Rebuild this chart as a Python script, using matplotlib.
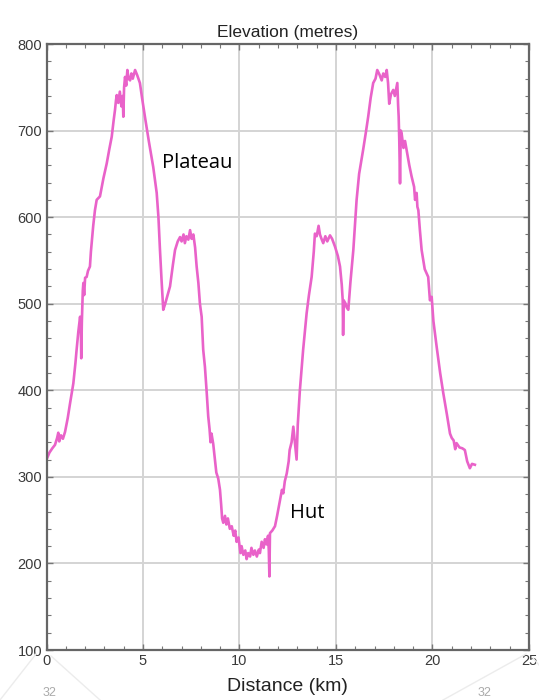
import matplotlib
matplotlib.use("Agg")
import matplotlib.pyplot as plt
from matplotlib.lines import Line2D
from matplotlib.ticker import MultipleLocator

# distance along the route (km) and elevation (m)
dist = [0.00, 0.15, 0.30, 0.44, 0.55, 0.61, 0.66, 0.75, 0.85, 0.96,
        1.10, 1.22, 1.39, 1.50, 1.56, 1.65, 1.74, 1.78, 1.80, 1.83,
        1.88, 1.91, 1.95, 2.00, 2.08, 2.15, 2.25, 2.30, 2.34, 2.42,
        2.51, 2.60, 2.77, 2.95, 3.12, 3.25, 3.38, 3.48, 3.55, 3.60,
        3.64, 3.72, 3.80, 3.88, 3.95, 3.98, 4.02, 4.07, 4.13, 4.19,
        4.25, 4.33, 4.40, 4.47, 4.59, 4.70, 4.84, 4.95, 5.10, 5.30,
        5.53, 5.71, 5.80, 5.88, 5.96, 6.05, 6.15, 6.25, 6.40, 6.55,
        6.66, 6.80, 6.92, 7.00, 7.10, 7.17, 7.25, 7.35, 7.44, 7.52,
        7.61, 7.70, 7.78, 7.87, 7.95, 8.04, 8.12, 8.21, 8.30, 8.38,
        8.45, 8.50, 8.55, 8.64, 8.73, 8.80, 8.90, 8.99, 9.05, 9.10,
        9.16, 9.25, 9.32, 9.40, 9.50, 9.60, 9.70, 9.78, 9.85, 9.95,
        10.05, 10.11, 10.20, 10.30, 10.37, 10.45, 10.55, 10.62, 10.72, 10.80,
        10.90, 11.00, 11.06, 11.15, 11.25, 11.32, 11.40, 11.48, 11.52, 11.55,
        11.58, 11.70, 11.84, 11.95, 12.10, 12.20, 12.27, 12.35, 12.45, 12.55,
        12.60, 12.70, 12.79, 12.85, 12.90, 12.96, 13.02, 13.13, 13.30, 13.48,
        13.60, 13.74, 13.85, 13.91, 14.00, 14.10, 14.17, 14.25, 14.34, 14.45,
        14.55, 14.69, 14.80, 14.95, 15.10, 15.21, 15.30, 15.35, 15.37, 15.40,
        15.50, 15.55, 15.64, 15.75, 15.90, 16.07, 16.20, 16.41, 16.55, 16.67,
        16.80, 16.93, 17.05, 17.14, 17.25, 17.37, 17.45, 17.55, 17.63, 17.70,
        17.76, 17.85, 17.97, 18.05, 18.18, 18.22, 18.25, 18.28, 18.32, 18.36,
        18.40, 18.50, 18.58, 18.66, 18.80, 18.92, 19.05, 19.10, 19.18, 19.22,
        19.27, 19.35, 19.44, 19.52, 19.60, 19.70, 19.78, 19.87, 19.96, 20.05,
        20.22, 20.40, 20.56, 20.75, 20.91, 21.00, 21.10, 21.18, 21.25, 21.40,
        21.55, 21.68, 21.80, 21.94, 22.05, 22.20]

elev = [320, 328, 333, 337, 345, 351, 341, 348, 344, 352,
        368, 385, 408, 432, 447, 468, 485, 470, 437, 478,
        515, 524, 510, 530, 531, 538, 543, 560, 570, 590,
        608, 620, 624, 645, 662, 678, 693, 712, 724, 735,
        741, 732, 745, 728, 740, 716, 750, 762, 752, 770,
        760, 758, 766, 760, 770, 764, 755, 738, 716, 688,
        658, 628, 600, 562, 528, 493, 500, 508, 520, 545,
        562, 572, 577, 572, 580, 570, 578, 574, 585, 575,
        580, 565, 543, 524, 500, 485, 447, 427, 398, 370,
        355, 340, 350, 338, 320, 305, 298, 285, 268, 252,
        247, 255, 245, 252, 240, 243, 232, 238, 225, 230,
        212, 220, 210, 215, 205, 212, 208, 218, 210, 215,
        208, 216, 212, 225, 218, 228, 222, 232, 215, 185,
        235, 238, 243, 255, 273, 285, 281, 295, 304, 318,
        331, 340, 358, 345, 335, 320, 360, 400, 447, 489,
        510, 531, 560, 581, 578, 590, 580, 575, 570, 578,
        572, 579, 575, 566, 555, 543, 522, 504, 464, 504,
        500, 496, 493, 525, 562, 620, 650, 678, 698, 716,
        738, 755, 760, 770, 765, 758, 766, 762, 770, 755,
        731, 742, 747, 740, 755, 730, 716, 690, 639, 700,
        697, 680, 688, 678, 660, 647, 635, 620, 628, 612,
        608, 585, 562, 551, 540, 535, 531, 504, 508, 480,
        450, 420, 397, 372, 350, 345, 342, 332, 339, 334,
        333, 331, 318, 310, 315, 314]

labels = ["Plateau", "Hut"]
label_pos = [(6.0, 662), (12.6, 258)]

fig = plt.figure(figsize=(5.39, 7.0), dpi=100)
ax = fig.add_axes([0.0863, 0.0714, 0.895, 0.8657])

ax.plot(dist, elev, color="#e962c9", lw=1.9, solid_joinstyle="round")

ax.set_xlim(0, 25)
ax.set_ylim(100, 800)
ax.xaxis.set_major_locator(MultipleLocator(5))
ax.xaxis.set_minor_locator(MultipleLocator(1))
ax.yaxis.set_major_locator(MultipleLocator(100))
ax.yaxis.set_minor_locator(MultipleLocator(20))
ax.grid(True, which="major", color="#d4d4d4", lw=1.4)
ax.set_axisbelow(True)

ax.tick_params(which="both", direction="in", top=True, right=True,
               colors="#777777", labelcolor="#3a3a3a")
ax.tick_params(which="major", length=4, width=1, labelsize=10.5, pad=3)
ax.tick_params(which="minor", length=3, width=0.8)
for lab in ax.get_xticklabels() + ax.get_yticklabels():
    lab.set_family("Liberation Sans")
for sp in ax.spines.values():
    sp.set_color("#666666")
    sp.set_linewidth(1.6)

ax.set_title("Elevation (metres)", family="Liberation Sans", fontsize=12.5,
             color="#222222", pad=5)
ax.set_xlabel("Distance (km)", family="Liberation Sans", fontsize=14,
              color="#222222", labelpad=7)

for txt, (x, y) in zip(labels, label_pos):
    ax.text(x, y, txt, family="Open Sans", fontsize=14.5, color="black",
            ha="left", va="center")

# faint slide-template marks below the chart
for (x0, y0, x1, y1) in [(0, 0, 36, 46), (51, 44, 100, 0),
                         (443, 0, 526, 46), (533, 42, 539, 35)]:
    fig.add_artist(Line2D([x0 / 539, x1 / 539], [y0 / 700, y1 / 700],
                          transform=fig.transFigure, color="#ececec", lw=1))
fig.text(50 / 539, 1 / 700, "32", ha="center", va="bottom", fontsize=9,
         color="#aaaaaa", family="Liberation Sans")
fig.text(485 / 539, 1 / 700, "32", ha="center", va="bottom", fontsize=9,
         color="#aaaaaa", family="Liberation Sans")

fig.savefig("out.png", dpi=100)
